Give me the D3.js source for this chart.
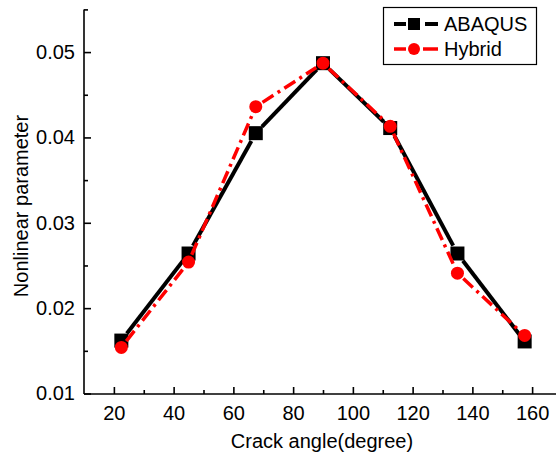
<!DOCTYPE html>
<html>
<head>
<meta charset="utf-8">
<script src="https://cdn.jsdelivr.net/npm/d3@7"></script>
<style>
  body { margin: 0; background: #fff; }
  svg text { font-family: "Liberation Sans", Arial, sans-serif; }
</style>
</head>
<body>
<div class="chart"></div>
<script>
// crack angle (deg) and nonlinear parameter for each method
const angles = [22.5, 45, 67.5, 90, 112.5, 135, 157.5];
const abaqus = [0.0162, 0.0264, 0.0405, 0.0487, 0.0411, 0.0264, 0.0161];
const hybrid = [0.0154, 0.0254, 0.0436, 0.0487, 0.0413, 0.0241, 0.0168];
const xTicks = [20, 40, 60, 80, 100, 120, 140, 160];
const xMinor = [30, 50, 70, 90, 110, 130, 150];
const yTicks = [0.01, 0.02, 0.03, 0.04, 0.05];
const yMinor = [0.015, 0.025, 0.035, 0.045, 0.055];

const W = 556, H = 462;
const svg = d3.select(".chart").append("svg")
  .attr("width", W).attr("height", H);

const x = d3.scaleLinear().domain([10, 170]).range([84, 562]);
const y = d3.scaleLinear().domain([0.01, 0.055]).range([393.5, 9.4]);

const axisY0 = 394;

// x axis
const gx = svg.append("g").attr("transform", `translate(0,${axisY0})`);
gx.call(d3.axisBottom(x).tickValues(xTicks).tickSize(-7).tickPadding(12).tickSizeOuter(0));
gx.append("g").call(d3.axisBottom(x).tickValues(xMinor).tickSize(-4).tickFormat(""))
  .select(".domain").remove();
gx.select(".domain").attr("d", `M84,0H556`);

// y axis
const gy = svg.append("g").attr("transform", `translate(84,0)`);
gy.call(d3.axisLeft(y).tickValues(yTicks).tickSize(-7).tickPadding(9)
  .tickFormat(d3.format(".2f")).tickSizeOuter(0));
gy.append("g").call(d3.axisLeft(y).tickValues(yMinor).tickSize(-4).tickFormat(""))
  .select(".domain").remove();
gy.select(".domain").attr("d", `M0,${y(0.055)}V${axisY0}`);

svg.selectAll(".domain, .tick line").attr("stroke", "#000").attr("stroke-width", 1.6);
svg.selectAll(".tick text").attr("font-size", 20).attr("fill", "#000");

// axis titles
svg.append("text")
  .attr("x", 322).attr("y", 448)
  .attr("text-anchor", "middle").attr("font-size", 20)
  .text("Crack angle(degree)");
svg.append("text")
  .attr("transform", "translate(28,206) rotate(-90)")
  .attr("text-anchor", "middle").attr("font-size", 20)
  .text("Nonlinear parameter");

// series lines with a small gap at each symbol
function segs(vals, gap) {
  const pts = angles.map((a, i) => [x(a), y(vals[i])]);
  const out = [];
  for (let i = 0; i < pts.length - 1; i++) {
    const [x1, y1] = pts[i], [x2, y2] = pts[i + 1];
    const len = Math.hypot(x2 - x1, y2 - y1);
    const ux = (x2 - x1) / len, uy = (y2 - y1) / len;
    out.push([x1 + ux * gap, y1 + uy * gap, x2 - ux * gap, y2 - uy * gap]);
  }
  return out;
}

svg.append("g").selectAll("line")
  .data(segs(abaqus, 9))
  .join("line")
  .attr("x1", d => d[0]).attr("y1", d => d[1])
  .attr("x2", d => d[2]).attr("y2", d => d[3])
  .attr("stroke", "#000").attr("stroke-width", 4);

svg.append("g").selectAll("rect")
  .data(angles)
  .join("rect")
  .attr("x", (d, i) => x(d) - 7).attr("y", (d, i) => y(abaqus[i]) - 7)
  .attr("width", 14).attr("height", 14)
  .attr("fill", "#000");

svg.append("g").selectAll("line")
  .data(segs(hybrid, 8))
  .join("line")
  .attr("x1", d => d[0]).attr("y1", d => d[1])
  .attr("x2", d => d[2]).attr("y2", d => d[3])
  .attr("stroke", "#f00").attr("stroke-width", 3.5)
  .attr("stroke-dasharray", "13,5,3,5");

svg.append("g").selectAll("circle")
  .data(angles)
  .join("circle")
  .attr("cx", d => x(d)).attr("cy", (d, i) => y(hybrid[i]))
  .attr("r", 6.5)
  .attr("fill", "#f00");

// legend
const lg = svg.append("g");
lg.append("rect")
  .attr("x", 383.5).attr("y", 7.5).attr("width", 153).attr("height", 57)
  .attr("fill", "#fff").attr("stroke", "#000").attr("stroke-width", 1.2);

const l1 = lg.append("g").attr("transform", "translate(0,24)");
l1.append("line").attr("x1", 394).attr("x2", 406).attr("stroke", "#000").attr("stroke-width", 4);
l1.append("line").attr("x1", 425).attr("x2", 438).attr("stroke", "#000").attr("stroke-width", 4);
l1.append("rect").attr("x", 408).attr("y", -6).attr("width", 12).attr("height", 12).attr("fill", "#000");
l1.append("text").attr("x", 444).attr("y", 7).attr("font-size", 20).text("ABAQUS");

const l2 = lg.append("g").attr("transform", "translate(0,49)");
l2.append("line").attr("x1", 394).attr("x2", 406).attr("stroke", "#f00").attr("stroke-width", 3.5);
l2.append("line").attr("x1", 423).attr("x2", 438).attr("stroke", "#f00").attr("stroke-width", 3.5);
l2.append("circle").attr("cx", 414).attr("cy", 0).attr("r", 6).attr("fill", "#f00");
l2.append("text").attr("x", 444).attr("y", 7).attr("font-size", 20).text("Hybrid");
</script>
</body>
</html>
